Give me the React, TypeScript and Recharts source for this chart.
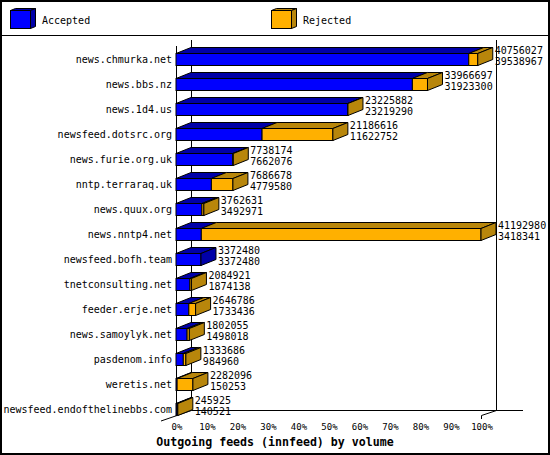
import { BarChart, Bar, XAxis, YAxis, LabelList } from 'recharts';

const hosts = [
  'news.chmurka.net',
  'news.bbs.nz',
  'news.1d4.us',
  'newsfeed.dotsrc.org',
  'news.furie.org.uk',
  'nntp.terraraq.uk',
  'news.quux.org',
  'news.nntp4.net',
  'newsfeed.bofh.team',
  'tnetconsulting.net',
  'feeder.erje.net',
  'news.samoylyk.net',
  'pasdenom.info',
  'weretis.net',
  'newsfeed.endofthelinebbs.com',
];

// total offered volume per peer (top number)
const offered = [
  40756027, 33966697, 23225882, 21186616, 7738174, 7686678, 3762631, 41192980,
  3372480, 2084921, 2646786, 1802055, 1333686, 2282096, 245925,
];

// accepted volume per peer (bottom number)
const accepted = [
  39538967, 31923300, 23219290, 11622752, 7662076, 4779580, 3492971, 3418341,
  3372480, 1874138, 1733436, 1498018, 984960, 150253, 140521,
];

const percentTicks = [0, 10, 20, 30, 40, 50, 60, 70, 80, 90, 100];

const maxVolume = Math.max(...offered);
const data = hosts.map((name, i) => ({
  name,
  acc: (accepted[i] / maxVolume) * 100,
  rej: ((offered[i] - accepted[i]) / maxVolume) * 100,
}));

const FONT = '"DejaVu Sans Mono", monospace';
const BLUE = '#0000ff';
const BLUE_DARK = '#0000a8';
const ORANGE = '#ffb000';
const ORANGE_DARK = '#b8860b';
const DX = 15;
const DY = 6;

function Box({ x, y, w, h, front, dark, side }: any) {
  return (
    <g stroke="#000" strokeWidth={1}>
      <rect x={x} y={y} width={w} height={h} fill={front} />
      <polygon points={`${x},${y} ${x + DX},${y - DY} ${x + w + DX},${y - DY} ${x + w},${y}`} fill={dark} />
      {side && (
        <polygon
          points={`${x + w},${y} ${x + w + DX},${y - DY} ${x + w + DX},${y + h - DY} ${x + w},${y + h}`}
          fill={dark}
        />
      )}
    </g>
  );
}

const acceptedShape = (p: any) => (
  <Box x={p.x} y={p.y} w={Math.max(p.width, 0)} h={p.height} front={BLUE} dark={BLUE_DARK} side={p.payload.rej === 0} />
);

const rejectedShape = (p: any) => {
  if (p.payload.rej === 0) return <g />;
  return <Box x={p.x} y={p.y} w={Math.max(p.width, 0)} h={p.height} front={ORANGE} dark={ORANGE_DARK} side />;
};

const ValueLabel = (p: any) => {
  const box = p.viewBox ?? p;
  const x = box.x + box.width + DX + 2;
  const y = box.y;
  return (
    <g fontFamily={FONT} fontSize={10} fill="#000">
      <text x={x} y={y + 0.5}>{offered[p.index]}</text>
      <text x={x} y={y + 11}>{accepted[p.index]}</text>
    </g>
  );
};

const HostTick = (p: any) => (
  <text x={172} y={p.y + 3.5} textAnchor="end" fontFamily={FONT} fontSize={10} fill="#000">
    {p.payload.value}
  </text>
);

const PercentTick = (p: any) => (
  <text x={p.x + 1} y={p.y + 8} textAnchor="middle" fontFamily={FONT} fontSize={9} fill="#000">
    {`${p.payload.value}%`}
  </text>
);

function Cube({ x, y, front, dark }: any) {
  const w = 20;
  const h = 18;
  return (
    <g stroke="#000" strokeWidth={1}>
      <rect x={x} y={y} width={w} height={h} fill={front} />
      <polygon points={`${x},${y} ${x + 5},${y - 2} ${x + w + 5},${y - 2} ${x + w},${y}`} fill={dark} />
      <polygon points={`${x + w},${y} ${x + w + 5},${y - 2} ${x + w + 5},${y + h - 2} ${x + w},${y + h}`} fill={dark} />
    </g>
  );
}

export default function App() {
  return (
    <div style={{ position: 'absolute', left: 0, top: 0, width: 550, height: 455, background: '#fff' }}>
      <svg width={550} height={455} style={{ position: 'absolute', left: 0, top: 0 }}>
        <rect x={1} y={1} width={548} height={453} fill="#fff" stroke="#000" strokeWidth={2} />
        <line x1={0} y1={35.5} x2={550} y2={35.5} stroke="#000" />
        <Cube x={10.5} y={10.5} front={BLUE} dark={BLUE_DARK} />
        <text x={42} y={24} fontFamily={FONT} fontSize={10}>Accepted</text>
        <Cube x={271.5} y={10.5} front={ORANGE} dark={ORANGE_DARK} />
        <text x={303} y={24} fontFamily={FONT} fontSize={10}>Rejected</text>
        <g stroke="#000" strokeWidth={1}>
          <line x1={191.5} y1={40} x2={191.5} y2={410.5} />
          <line x1={496.5} y1={40} x2={496.5} y2={410.5} />
          <line x1={191.5} y1={410.5} x2={523} y2={410.5} />
          <line x1={176.5} y1={46} x2={176.5} y2={416} />
          <line x1={191.5} y1={410.5} x2={161} y2={421} />
          <line x1={496.5} y1={410.5} x2={481.5} y2={415.5} />
          <line x1={481.5} y1={415.5} x2={481.5} y2={419} />
        </g>
        <text x={275} y={446} textAnchor="middle" fontFamily={FONT} fontSize={11.6} fontWeight="bold">
          Outgoing feeds (innfeed) by volume
        </text>
      </svg>
      <div style={{ position: 'absolute', left: 0, top: 0 }}>
        <BarChart
          width={550}
          height={455}
          data={data}
          layout="vertical"
          margin={{ top: 46.5, right: 69, bottom: 13.5, left: 0 }}
          barSize={12}
          style={{ overflow: 'visible' }}
        >
          <XAxis
            type="number"
            domain={[0, 100]}
            ticks={percentTicks}
            interval={0}
            height={20}
            tickSize={0}
            tickMargin={0}
            axisLine={false}
            tickLine={false}
            tick={<PercentTick />}
          />
          <YAxis
            type="category"
            dataKey="name"
            width={176}
            interval={0}
            tickSize={0}
            tickMargin={0}
            axisLine={false}
            tickLine={false}
            tick={<HostTick />}
          />
          <Bar dataKey="acc" stackId="v" isAnimationActive={false} shape={acceptedShape} />
          <Bar dataKey="rej" stackId="v" isAnimationActive={false} shape={rejectedShape}>
            <LabelList dataKey="rej" content={<ValueLabel />} />
          </Bar>
        </BarChart>
      </div>
    </div>
  );
}
